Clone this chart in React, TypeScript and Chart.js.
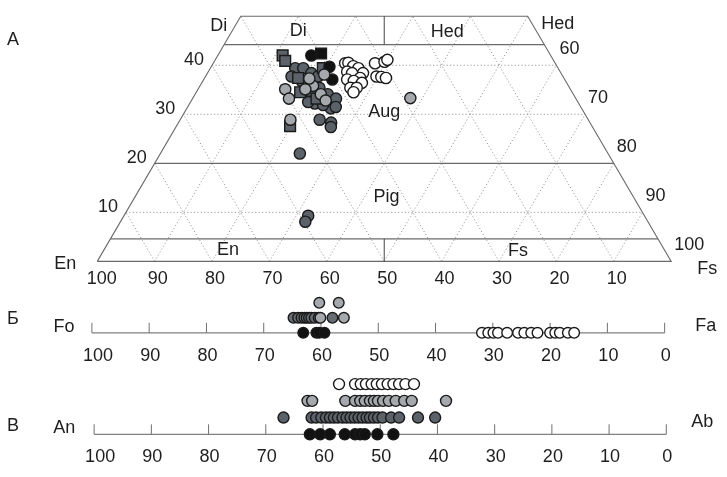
import React, { useEffect, useRef } from "react";
import { Chart, registerables } from "chart.js";
Chart.register(...registerables);

const W = 727;
const H = 477;

// ---------- Panel А: pyroxene compositions as [Wo, Fs]  (En = 100 - Wo - Fs)
type Pair = [number, number];
const pyxDarkCircles: Pair[] = [
  [39.4, 14.8], [39.4, 16.2], [37.7, 15.0], [38.4, 18.1], [37.7, 19.6],
  [36.1, 19.0], [35.4, 21.0], [34.5, 20.6], [34.1, 23.1], [33.2, 25.0],
  [31.2, 25.1], [31.5, 25.8], [28.9, 24.3], [28.3, 26.6], [27.4, 27.0],
  [22.0, 24.3], [32.2, 21.8], [31.9, 23.4], [32.5, 20.5], [36.8, 17.2],
  [9.3, 32.1], [8.1, 32.2],
];
const pyxDarkSquares: Pair[] = [
  [42.0, 11.3], [40.9, 12.3], [39.4, 19.6], [37.4, 16.3], [34.5, 18.1],
  [34.8, 19.9], [33.2, 21.6], [27.6, 19.8],
];
const pyxLightCircles: Pair[] = [
  [35.1, 15.2], [33.2, 16.8], [38.1, 20.5], [35.8, 19.7], [34.1, 21.9],
  [32.8, 23.4], [28.9, 19.2], [33.3, 37.9], [35.1, 18.7], [37.3, 18.3],
];
const pyxBlackCircles: Pair[] = [[42.0, 16.3], [39.7, 20.6], [37.1, 22.4]];
const pyxBlackSquares: Pair[] = [[42.4, 17.8]];
const pyxWhiteCircles: Pair[] = [
  [40.4, 23.0], [40.5, 23.5], [39.8, 24.7], [39.4, 25.8], [38.4, 27.1],
  [38.7, 24.2], [38.4, 25.2], [37.4, 27.1], [37.1, 25.0], [36.8, 26.3],
  [36.4, 27.9], [35.4, 26.4], [35.4, 27.5], [34.5, 27.4], [40.4, 28.2],
  [40.7, 29.7], [41.1, 30.0], [37.7, 29.8], [37.6, 30.7], [37.4, 31.6],
];

// ---------- Panel Б: olivine, Fo mol.%
const olBlack = [63.1, 60.8, 60.3, 59.4];
const olWhite = [31.9, 30.8, 29.9, 29.1, 27.5, 25.6, 24.5, 23.3, 22.2, 20.0, 19.1, 18.3, 16.9, 15.8];
const olGrayRow1 = [64.8, 64.0, 63.4, 62.9, 62.5, 62.1, 61.7, 61.1, 60.4, 58.0];
const olLightRow1 = [60.1, 56.0];
const olLightRow2 = [60.3, 56.9];

// ---------- Panel В: plagioclase, An mol.%
const plBlack = [62.3, 60.5, 58.8, 56.2, 54.4, 53.5, 52.7, 50.5, 47.7];
const plDark = [66.9, 62.0, 61.2, 60.3, 59.5, 58.8, 58.1, 57.4, 56.6, 55.9, 55.2, 54.5, 53.8, 53.1, 52.4, 51.8, 51.1, 50.4, 49.6, 48.1, 46.7, 43.4, 40.4];
const plLight = [62.7, 61.9, 56.1, 54.4, 53.5, 52.7, 51.8, 51.1, 50.4, 49.5, 48.5, 47.3, 45.8, 44.5, 38.5];
const plWhite = [57.2, 54.4, 53.4, 52.5, 51.5, 50.6, 49.7, 48.7, 47.7, 46.7, 45.6, 44.1];

// ---------- axis ticks / boundaries
const ternBottomTicks = [100, 90, 80, 70, 60, 50, 40, 30, 20, 10];
const ternLeftTicks = [40, 30, 20, 10];
const ternRightTicks = [60, 70, 80, 90, 100];
const stripTicks = [100, 90, 80, 70, 60, 50, 40, 30, 20, 10, 0];
const gridSteps = [10, 20, 30, 40, 50, 60, 70, 80, 90];
const woDotted = [10, 30, 40];
const woSolid = [4.6, 20, 44.2];
const woTop = 50;

const FONT = "18px 'Liberation Sans', Arial, Helvetica, sans-serif";
const INK = "#1e1e1e";

const ternXY = (p: Pair) => ({ x: 100 - p[1] - p[0] / 2, y: p[0] });
const stripXY = (vals: number[], row: number) => vals.map((v) => ({ x: v, y: row }));

function drawPath(ctx: CanvasRenderingContext2D, pts: number[][], color: string, width: number, dash: number[] = []) {
  ctx.save();
  ctx.beginPath();
  ctx.strokeStyle = color;
  ctx.lineWidth = width;
  ctx.setLineDash(dash);
  ctx.moveTo(pts[0][0], pts[0][1]);
  for (let i = 1; i < pts.length; i++) ctx.lineTo(pts[i][0], pts[i][1]);
  ctx.stroke();
  ctx.restore();
}

function text(ctx: CanvasRenderingContext2D, s: string, x: number, y: number, align: CanvasTextAlign = "center") {
  ctx.save();
  ctx.font = FONT;
  ctx.fillStyle = INK;
  ctx.textAlign = align;
  ctx.textBaseline = "middle";
  ctx.fillText(s, x, y);
  ctx.restore();
}

const framePlugin = {
  id: "frames",
  beforeDatasetsDraw(chart: any) {
    const ctx: CanvasRenderingContext2D = chart.ctx;
    const { xT, yT, xB, yB, xV, yV } = chart.scales;
    const P = (X: number, Y: number) => [xT.getPixelForValue(X), yT.getPixelForValue(Y)];
    const dotted = "#9c9c9c";
    const solid = "#6a6a6a";
    // dotted triangular grid
    for (const f of gridSteps) {
      const top = Math.min(woTop, 100 - f);
      drawPath(ctx, [P(100 - f, 0), P(100 - f - top / 2, top)], dotted, 1, [1.2, 2.2]);
      drawPath(ctx, [P(f, 0), P(f + top / 2, top)], dotted, 1, [1.2, 2.2]);
    }
    for (const w of woDotted) drawPath(ctx, [P(100 - w / 2, w), P(w / 2, w)], dotted, 1, [1.2, 2.2]);
    // solid boundaries
    for (const w of woSolid) drawPath(ctx, [P(100 - w / 2, w), P(w / 2, w)], solid, 1.3);
    drawPath(ctx, [P(100, 0), P(0, 0), P(woTop / 2, woTop), P(100 - woTop / 2, woTop), P(100, 0)], solid, 1.1);
    drawPath(ctx, [P(50, 0), P(50, woSolid[0])], "#444", 1);
    drawPath(ctx, [P(50, woSolid[2]), P(50, woTop)], "#444", 1);
    // strips
    const strips: [any, any][] = [[xB, yB], [xV, yV]];
    for (const [sx, sy] of strips) {
      const y0 = sy.getPixelForValue(0);
      drawPath(ctx, [[sx.getPixelForValue(100), y0], [sx.getPixelForValue(0), y0]], "#808080", 1.2);
      for (const t of stripTicks) {
        const x = sx.getPixelForValue(t);
        drawPath(ctx, [[x, y0], [x, y0 - 10]], "#707070", 1);
      }
    }
  },
  afterDraw(chart: any) {
    const ctx: CanvasRenderingContext2D = chart.ctx;
    const { xT, yT, xB, yB, xV, yV } = chart.scales;
    const P = (X: number, Y: number) => [xT.getPixelForValue(X), yT.getPixelForValue(Y)];
    // panel letters
    text(ctx, "А", 7, 40, "left");
    text(ctx, "Б", 7, 319, "left");
    text(ctx, "В", 7, 426, "left");
    // ternary bottom ticks
    const yb = yT.getPixelForValue(0);
    for (const t of ternBottomTicks) text(ctx, String(t), xT.getPixelForValue(t) + (t === 100 ? 4.5 : 3), yb + 18);
    // left Wo labels
    for (const w of ternLeftTicks) {
      const [x, y] = P(100 - w / 2, w);
      text(ctx, String(w), x - 18, y - 5.5);
    }
    // right labels (100 - Wo)
    for (const r of ternRightTicks) {
      const w = 100 - r;
      const [x, y] = P(w / 2, w);
      text(ctx, String(r), x + 3, y - 16, "left");
    }
    // corners
    let c = P(100 - woTop / 2, woTop);
    text(ctx, "Di", c[0] - 22, c[1] + 10);
    c = P(woTop / 2, woTop);
    text(ctx, "Hed", c[0] + 30, c[1] + 7.5);
    c = P(100, 0);
    text(ctx, "En", c[0] - 32, c[1] + 3);
    c = P(0, 0);
    text(ctx, "Fs", c[0] + 36, c[1] + 8);
    // field names
    const fields: [string, number, number][] = [
      ["Di", 65, 46.9], ["Hed", 39, 46.8], ["Aug", 50, 30.5], ["Pig", 49.6, 13.2], ["En", 77.2, 2.4], ["Fs", 26.7, 2.1],
    ];
    for (const [s, X, Y] of fields) {
      const [x, y] = P(X, Y);
      text(ctx, s, x, y);
    }
    // strips
    const strips: [any, any, string, string][] = [[xB, yB, "Fo", "Fa"], [xV, yV, "An", "Ab"]];
    strips.forEach(([sx, sy, l, r], i) => {
      const y0 = sy.getPixelForValue(0);
      for (const t of stripTicks) text(ctx, String(t), sx.getPixelForValue(t) + (t === 100 ? 6 : 1), y0 + 23);
      text(ctx, l, sx.getPixelForValue(100) - (i === 0 ? 28 : 30), y0 - 6);
      text(ctx, r, sx.getPixelForValue(0) + (i === 0 ? 41 : 36), y0 - (i === 0 ? 6.5 : 12));
    });
  },
};

export default function App() {
  const ref = useRef<HTMLCanvasElement>(null);
  useEffect(() => {
    const canvas = ref.current!;
    const ds = (data: any[], xAxisID: string, yAxisID: string, pointStyle: string, radius: number, fill: string, bw = 1.4) => ({
      data,
      xAxisID,
      yAxisID,
      showLine: false,
      pointStyle,
      pointRadius: radius,
      pointHoverRadius: radius,
      pointBackgroundColor: fill,
      pointBorderColor: "#1a1a1a",
      pointBorderWidth: bw,
    });
    const DARK = "#5b6269";
    const MID = "#666c72";
    const LIGHT = "#a5a9ad";
    const BLACK = "#121212";
    // listed top-most first (Chart.js paints dataset 0 last)
    const datasets: any[] = [
      ds(pyxWhiteCircles.map(ternXY), "xT", "yT", "circle", 5.6, "#ffffff"),
      ds(pyxLightCircles.map(ternXY), "xT", "yT", "circle", 5.6, LIGHT),
      ds(pyxBlackCircles.map(ternXY), "xT", "yT", "circle", 5.6, BLACK),
      ds(pyxBlackSquares.map(ternXY), "xT", "yT", "rect", 7.6, BLACK),
      ds(pyxDarkSquares.map(ternXY), "xT", "yT", "rect", 7.6, DARK),
      ds(pyxDarkCircles.map(ternXY), "xT", "yT", "circle", 5.6, DARK),

      ds(stripXY(olLightRow1, 1), "xB", "yB", "circle", 5.3, LIGHT),
      ds(stripXY(olGrayRow1, 1), "xB", "yB", "circle", 5.3, MID),
      ds(stripXY(olLightRow2, 2), "xB", "yB", "circle", 5.3, LIGHT),
      ds(stripXY(olBlack, 0), "xB", "yB", "circle", 5.3, BLACK),
      ds(stripXY(olWhite, 0), "xB", "yB", "circle", 5.3, "#ffffff"),

      ds(stripXY(plWhite, 3), "xV", "yV", "circle", 5.5, "#ffffff"),
      ds(stripXY(plLight, 2), "xV", "yV", "circle", 5.5, LIGHT),
      ds(stripXY(plDark, 1), "xV", "yV", "circle", 5.5, DARK),
      ds(stripXY(plBlack, 0), "xV", "yV", "circle", 5.5, BLACK),
    ];
    const hidden = { type: "linear", display: false, bounds: "data" } as const;
    const chart = new Chart(canvas, {
      type: "scatter",
      data: { datasets },
      options: {
        responsive: false,
        animation: false,
        events: [],
        layout: { padding: 0 },
        plugins: { legend: { display: false }, tooltip: { enabled: false } },
        scales: {
          xT: { ...hidden, axis: "x", reverse: true, min: -8.156, max: 115.378 },
          xB: { ...hidden, axis: "x", reverse: true, min: -9.314, max: 114.473 },
          xV: { ...hidden, axis: "x", reverse: true, min: -9.034, max: 114.88 },
          yT: { ...hidden, axis: "y", min: -42.131, max: 51.472 },
          yB: { ...hidden, axis: "y", min: -9.006, max: 21.571 },
          yV: { ...hidden, axis: "y", min: -2.012, max: 25.402 },
        },
      } as any,
      plugins: [framePlugin],
    });
    return () => chart.destroy();
  }, []);
  return (
    <div style={{ position: "absolute", left: 0, top: 0, width: W, height: H, background: "#ffffff" }}>
      <canvas ref={ref} width={W} height={H} style={{ display: "block", width: W, height: H }} />
    </div>
  );
}
